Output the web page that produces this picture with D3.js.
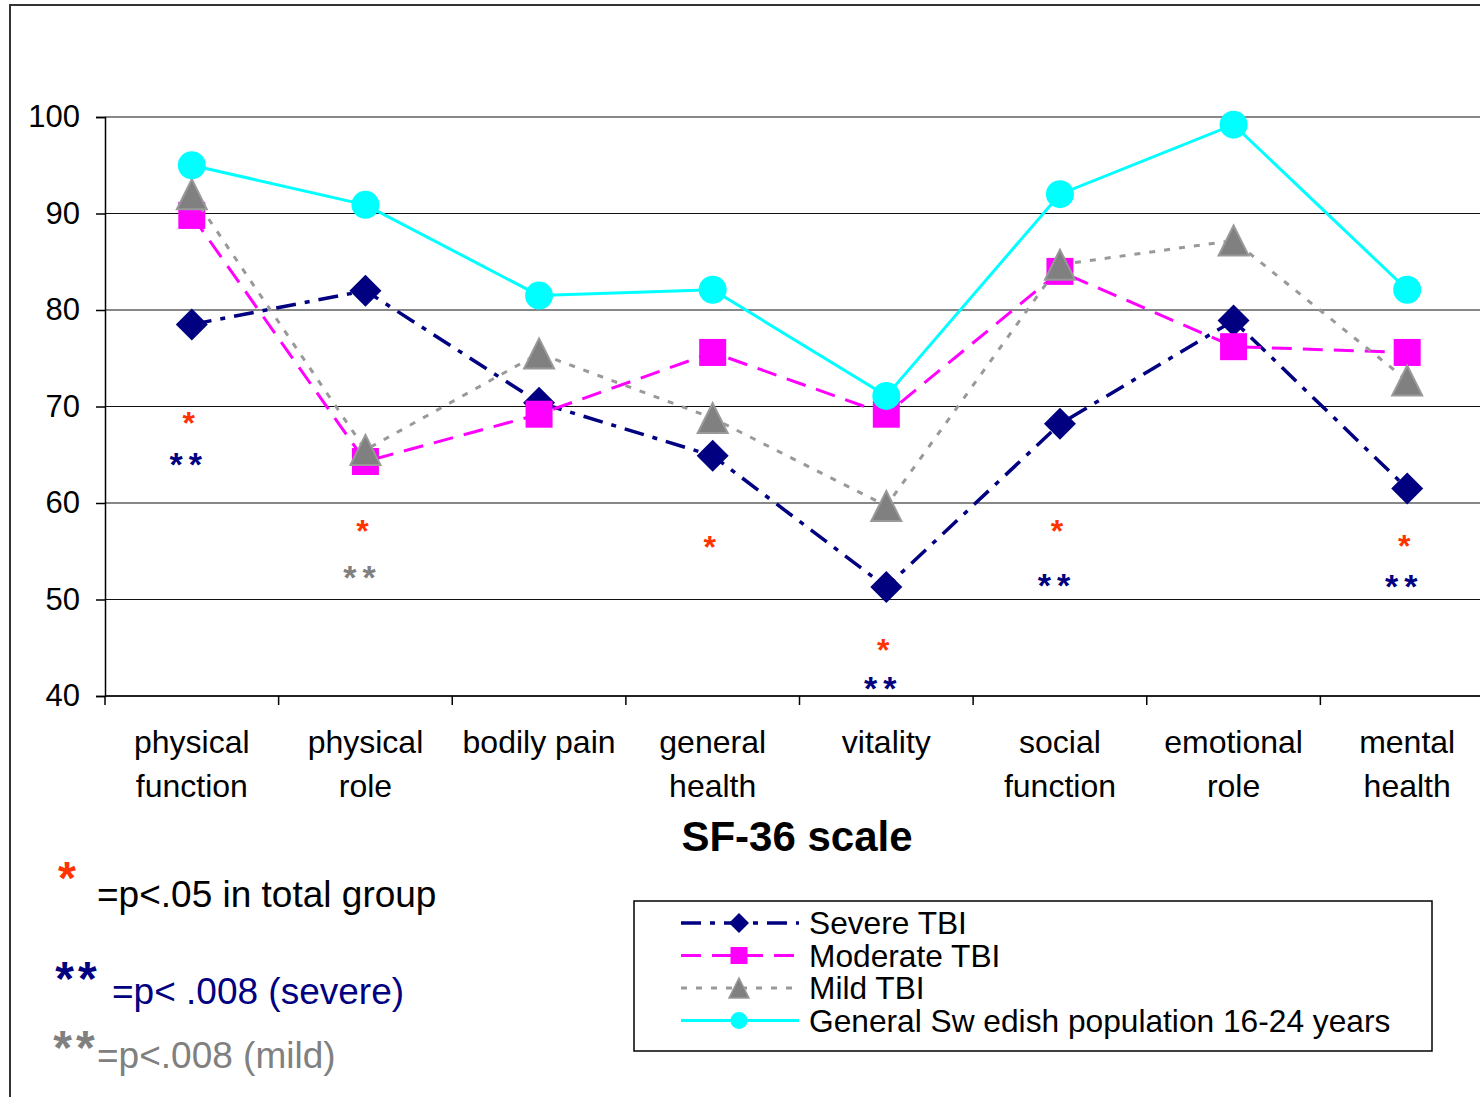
<!DOCTYPE html>
<html>
<head>
<meta charset="utf-8">
<script src="https://cdn.jsdelivr.net/npm/d3@7"></script>
<style>
body{margin:0;background:#fff}
svg{display:block}
text{font-family:"Liberation Sans",Arial,sans-serif}
</style>
</head>
<body>
<div id="chart"></div>
<script>
// categories (label lines)
const categories = [["physical","function"],["physical","role"],["bodily pain"],["general","health"],["vitality"],["social","function"],["emotional","role"],["mental","health"]];
// series values
const severe   = [78.5, 82.0, 70.4, 64.9, 51.3, 68.2, 78.9, 61.5];
const moderate = [89.8, 64.3, 69.2, 75.6, 69.2, 84.0, 76.2, 75.6];
const mild     = [92.0, 65.5, 75.5, 68.8, 59.7, 84.7, 87.2, 72.7];
const general  = [95.0, 90.9, 81.5, 82.1, 71.1, 92.0, 99.2, 82.1];
const seriesNames = ["Severe TBI","Moderate TBI","Mild TBI","General Sw edish population 16-24 years"];
const yTicks = [40, 50, 60, 70, 80, 90, 100];
// significance marks: category, level on the y scale, symbol, group
const sigCat   = [0, 0, 1, 1, 3, 4, 4, 5, 5, 7, 7];
const sigLevel = [69.0, 64.8, 57.8, 53.1, 56.2, 45.5, 41.6, 57.8, 52.3, 56.3, 52.2];
const sigText  = ["*","**","*","**","*","*","**","*","**","*","**"];
const sigGroup = ["total","severe","total","mild","total","total","severe","total","severe","total","severe"];
// footnote texts
const noteText = ["=p<.05 in total group", "=p< .008 (severe)", "=p<.008 (mild)"];
const noteGroup = ["total", "severe", "mild"];
const noteStar = ["*", "**", "**"];

const W = 1480, H = 1097;
const groupColor = {total: "#FF3300", severe: "#000080", mild: "#808080"};

// custom marker shapes
const diamond = {draw(ctx, size) {
    const s = Math.sqrt(size) / 2;
    ctx.moveTo(0, -s); ctx.lineTo(s, 0); ctx.lineTo(0, s); ctx.lineTo(-s, 0); ctx.closePath();
}};
const square = {draw(ctx, size) {
    const s = Math.sqrt(size) / 2;
    ctx.rect(-s, -s, 2 * s, 2 * s);
}};
const triangle = {draw(ctx, size) {
    const s = Math.sqrt(size) / 2;
    ctx.moveTo(0, -s); ctx.lineTo(s, s); ctx.lineTo(-s, s); ctx.closePath();
}};

const series = [
    {name: seriesNames[0], values: severe,   stroke: "#000080", dash: "20,9,5,9", width: 3.5, shape: diamond,  size: 1024, lsize: 400, fill: "#000080", mstroke: "none"},
    {name: seriesNames[1], values: moderate, stroke: "#FF00FF", dash: "20,11",    width: 3,   shape: square,   size: 729,  lsize: 289, fill: "#FF00FF", mstroke: "none"},
    {name: seriesNames[2], values: mild,     stroke: "#999999", dash: "6,9",      width: 3,   shape: triangle, size: 900,  lsize: 400, fill: "#808080", mstroke: "#999999"},
    {name: seriesNames[3], values: general,  stroke: "#00FFFF", dash: null,       width: 3,   shape: d3.symbolCircle, size: 615, lsize: 227, fill: "#00FFFF", mstroke: "none"}
];

const svg = d3.select("#chart").append("svg").attr("width", W).attr("height", H);

// outer frame
svg.append("path")
    .attr("d", `M 10 ${H} V 5 H ${W}`)
    .attr("fill", "none").attr("stroke", "#333").attr("stroke-width", 2);

const x = d3.scaleBand().domain(d3.range(categories.length)).range([105, 1494]).padding(0);
const y = d3.scaleLinear().domain([40, 100]).range([696, 117]);
const cx = i => x(i) + x.bandwidth() / 2;

// gridlines
svg.append("g").selectAll("line").data(yTicks).join("line")
    .attr("x1", 105).attr("x2", W)
    .attr("y1", d => y(d)).attr("y2", d => y(d))
    .attr("stroke", "#111").attr("stroke-width", 1.2);

// y axis
const yAxis = svg.append("g").attr("transform", "translate(105,0)")
    .call(d3.axisLeft(y).tickValues(yTicks).tickSize(9).tickPadding(16).tickFormat(d3.format("d")));
yAxis.selectAll("path, line").attr("stroke", "#000").attr("stroke-width", 1.5);
yAxis.selectAll("text").attr("font-size", 31).attr("fill", "#000").attr("font-family", '"Liberation Sans",Arial,sans-serif');

// x axis line and boundary ticks
svg.append("line").attr("x1", 105).attr("x2", W).attr("y1", y(40)).attr("y2", y(40))
    .attr("stroke", "#000").attr("stroke-width", 1.5);
const bounds = d3.range(categories.length + 1).map(i => i < categories.length ? x(i) : x(i - 1) + x.bandwidth());
svg.append("g").selectAll("line").data(bounds).join("line")
    .attr("x1", d => d).attr("x2", d => d)
    .attr("y1", y(40)).attr("y2", y(40) + 9)
    .attr("stroke", "#000").attr("stroke-width", 1.5);

// category labels
const cat = svg.append("g").selectAll("text").data(categories).join("text")
    .attr("x", (d, i) => cx(i)).attr("y", 753)
    .attr("text-anchor", "middle").attr("font-size", 32).attr("fill", "#000");
cat.selectAll("tspan").data(d => d).join("tspan")
    .attr("x", function() { return this.parentNode.getAttribute("x"); })
    .attr("dy", (d, i) => i ? 44 : 0)
    .text(d => d);

// axis title
svg.append("text").attr("x", 797).attr("y", 851).attr("text-anchor", "middle")
    .attr("font-size", 42).attr("font-weight", "bold").text("SF-36 scale");

// series
const line = d3.line().x((d, i) => cx(i)).y(d => y(d));
series.forEach(s => {
    const g = svg.append("g");
    g.append("path").attr("d", line(s.values))
        .attr("fill", "none").attr("stroke", s.stroke).attr("stroke-width", s.width)
        .attr("stroke-dasharray", s.dash);
    g.selectAll("path.m").data(s.values).join("path").attr("class", "m")
        .attr("transform", (d, i) => `translate(${cx(i)},${y(d)})`)
        .attr("d", d3.symbol(s.shape, s.size))
        .attr("fill", s.fill).attr("stroke", s.mstroke).attr("stroke-width", 2);
});

// significance marks
const starFs = t => t.length > 1 ? 34 : 32;
svg.append("g").selectAll("text").data(d3.range(sigText.length)).join("text")
    .attr("text-anchor", "middle").attr("font-weight", "bold")
    .attr("x", i => cx(sigCat[i]) - 3)
    .attr("y", i => y(sigLevel[i]) + starFs(sigText[i]) * 0.57)
    .attr("font-size", i => starFs(sigText[i]))
    .attr("letter-spacing", i => sigText[i].length > 1 ? 6 : 0)
    .attr("fill", i => groupColor[sigGroup[i]])
    .text(i => sigText[i]);

// legend
const lg = svg.append("g").attr("transform", "translate(634,901)");
lg.append("rect").attr("width", 798).attr("height", 150)
    .attr("fill", "#fff").attr("stroke", "#000").attr("stroke-width", 1.5);
series.forEach((s, i) => {
    const row = lg.append("g").attr("transform", `translate(0,${22 + i * 32.5})`);
    row.append("line").attr("x1", 47).attr("x2", 165)
        .attr("stroke", s.stroke).attr("stroke-width", s.width).attr("stroke-dasharray", s.dash);
    row.append("path").attr("transform", "translate(105,0)")
        .attr("d", d3.symbol(s.shape, s.lsize))
        .attr("fill", s.fill).attr("stroke", s.mstroke).attr("stroke-width", 1.5);
    row.append("text").attr("x", 175).attr("y", 11).attr("font-size", 31.7).attr("fill", "#000").text(s.name);
});

// footnotes
const noteY = [907, 1004, 1068];
const noteX = [97, 112, 97];
const starY = [894, 995, 1064];
const starX = [67, 78, 76];
noteText.forEach((t, i) => {
    svg.append("text").attr("x", starX[i]).attr("y", starY[i]).attr("text-anchor", "middle")
        .attr("font-size", noteStar[i].length > 1 ? 48 : 46).attr("font-weight", "bold")
        .attr("letter-spacing", noteStar[i].length > 1 ? 4 : 0)
        .attr("fill", groupColor[noteGroup[i]]).text(noteStar[i]);
    svg.append("text").attr("x", noteX[i]).attr("y", noteY[i])
        .attr("font-size", 37).attr("fill", noteGroup[i] === "total" ? "#000" : groupColor[noteGroup[i]]).text(t);
});
</script>
</body>
</html>
